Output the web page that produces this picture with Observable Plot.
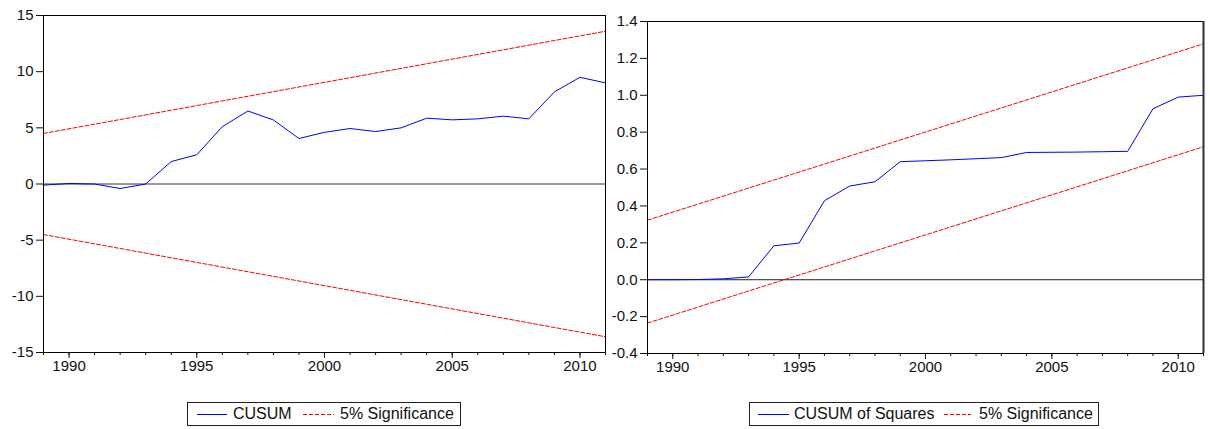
<!DOCTYPE html>
<html>
<head>
<meta charset="utf-8">
<script src="https://cdn.jsdelivr.net/npm/d3@7"></script>
<script src="https://cdn.jsdelivr.net/npm/@observablehq/plot@0.6"></script>
<style>
  html, body { margin: 0; padding: 0; background: #fff; }
  #wrap { position: relative; width: 1210px; height: 429px; overflow: hidden; background: #fff;
          font-family: "Liberation Sans", Arial, sans-serif; color: #111; }
  .panel { position: absolute; top: 0; }
  .legend { position: absolute; box-sizing: border-box; border: 1px solid #222; height: 24px; top: 402px; background: #fff; }
  .legend span { position: absolute; top: 0; line-height: 22px; font-size: 16px; white-space: nowrap; color: #111; }
  .legend svg { position: absolute; top: 0; }
</style>
</head>
<body>
<div id="wrap">
  <div id="left" class="panel" style="left:0px"></div>
  <div id="right" class="panel" style="left:600px"></div>
  <div id="legL" class="legend" style="left:187px;width:274px"></div>
  <div id="legR" class="legend" style="left:749px;width:350px"></div>
</div>
<script>
// ---- data ----
const years = [1989,1990,1991,1992,1993,1994,1995,1996,1997,1998,1999,2000,2001,2002,2003,2004,2005,2006,2007,2008,2009,2010,2011];
const majorYears = [1990,1995,2000,2005,2010];
const cusum = [-0.1,0.05,0.0,-0.4,0.0,2.0,2.6,5.1,6.5,5.7,4.05,4.6,4.94,4.67,5.0,5.86,5.71,5.8,6.04,5.8,8.2,9.5,9.0];
const boundYears = [1989, 2011];
const cusumUpper = [4.5, 13.6];
const cusumLower = [-4.5, -13.6];
const cusumSq = [0,0,0.001,0.005,0.015,0.184,0.199,0.428,0.508,0.531,0.64,0.645,0.65,0.656,0.662,0.69,0.691,0.692,0.694,0.696,0.927,0.99,1.0];
const sqUpper = [0.323, 1.279];
const sqLower = [-0.235, 0.721];
const leftTicks = [-15,-10,-5,0,5,10,15];
const rightTicks = [-0.4,-0.2,0.0,0.2,0.4,0.6,0.8,1.0,1.2,1.4];
const legendLeft = ["CUSUM", "5% Significance"];
const legendRight = ["CUSUM of Squares", "5% Significance"];

const BLUE = "#0000ff", RED = "#ff0000";
const style = {fontFamily: "Liberation Sans, Arial, sans-serif", fontSize: "15px", color: "#111", background: "transparent", overflow: "visible"};

function xAxes() {
  return [
    Plot.axisX({ticks: years, tickSize: 3, tickFormat: () => "", label: null}),
    Plot.axisX({ticks: majorYears, tickSize: 6, tickPadding: 2, tickFormat: d => String(d), label: null})
  ];
}

const left = Plot.plot({
  width: 620, height: 380,
  marginLeft: 43, marginRight: 15, marginTop: 15, marginBottom: 28,
  x: {domain: [1989, 2011]},
  y: {domain: [-15, 15]},
  style,
  marks: [
    Plot.ruleY([0], {stroke: "#333", strokeWidth: 1}),
    Plot.line(boundYears, {x: boundYears, y: cusumUpper, stroke: RED, strokeWidth: 1, strokeDasharray: "4,2"}),
    Plot.line(boundYears, {x: boundYears, y: cusumLower, stroke: RED, strokeWidth: 1, strokeDasharray: "4,2"}),
    Plot.line(years, {x: years, y: cusum, stroke: BLUE, strokeWidth: 1}),
    Plot.frame({stroke: "#000"}),
    Plot.axisY({ticks: leftTicks, tickSize: 7, tickPadding: 3, tickFormat: d => String(d), label: null}),
    ...xAxes()
  ]
});
document.getElementById("left").appendChild(left);

const right = Plot.plot({
  width: 610, height: 380,
  marginLeft: 47, marginRight: 7, marginTop: 21, marginBottom: 27,
  x: {domain: [1989, 2011]},
  y: {domain: [-0.4, 1.4]},
  style,
  marks: [
    Plot.ruleY([0], {stroke: "#222", strokeWidth: 1}),
    Plot.line(boundYears, {x: boundYears, y: sqUpper, stroke: RED, strokeWidth: 1, strokeDasharray: "4,2"}),
    Plot.line(boundYears, {x: boundYears, y: sqLower, stroke: RED, strokeWidth: 1, strokeDasharray: "4,2"}),
    Plot.line(years, {x: years, y: cusumSq, stroke: BLUE, strokeWidth: 1}),
    Plot.frame({stroke: "#000"}),
    Plot.ruleX([2011], {stroke: "#333", strokeWidth: 2}),
    Plot.axisY({ticks: rightTicks, tickSize: 7, tickPadding: 3, tickFormat: d => d.toFixed(1), label: null}),
    ...xAxes()
  ]
});
document.getElementById("right").appendChild(right);

// ---- legends ----
function sample(color, x0, x1, dashed) {
  const ns = "http://www.w3.org/2000/svg";
  const svg = document.createElementNS(ns, "svg");
  svg.setAttribute("width", x1 - x0);
  svg.setAttribute("height", 22);
  svg.style.left = x0 + "px";
  const ln = document.createElementNS(ns, "line");
  ln.setAttribute("x1", 0); ln.setAttribute("x2", x1 - x0);
  ln.setAttribute("y1", 11.5); ln.setAttribute("y2", 11.5);
  ln.setAttribute("stroke", color);
  ln.setAttribute("stroke-width", 1);
  if (dashed) ln.setAttribute("stroke-dasharray", "4,2");
  svg.appendChild(ln);
  return svg;
}
function label(text, x) {
  const s = document.createElement("span");
  s.textContent = text;
  s.style.left = x + "px";
  return s;
}
const legL = document.getElementById("legL");
legL.appendChild(sample(BLUE, 9, 39, false));
legL.appendChild(label(legendLeft[0], 45));
legL.appendChild(sample(RED, 115, 146, true));
legL.appendChild(label(legendLeft[1], 152));

const legR = document.getElementById("legR");
legR.appendChild(sample(BLUE, 8, 39, false));
legR.appendChild(label(legendRight[0], 44));
legR.appendChild(sample(RED, 194, 221, true));
legR.appendChild(label(legendRight[1], 229));
</script>
</body>
</html>
